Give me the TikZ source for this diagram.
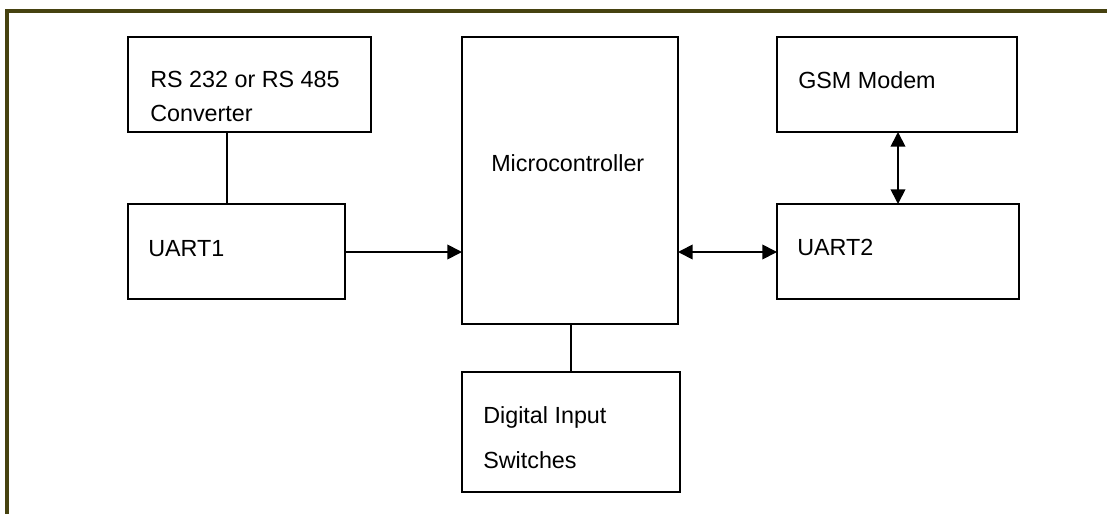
\documentclass[tikz,border=0pt]{standalone}
\usepackage{fontspec}
\setmainfont{Liberation Sans}
\usetikzlibrary{arrows.meta}
\definecolor{framecol}{RGB}{70,66,16}
\begin{document}
\begin{tikzpicture}[x=0.75pt,y=-0.75pt,
  blk/.style={draw=black,line width=1.5pt,rectangle,inner sep=0pt,outer sep=0pt,anchor=north west},
  txt/.style={anchor=base west,inner sep=0pt,font=\fontsize{17.5}{21}\selectfont},
  conn/.style={line width=1.3pt},
  tip/.style={{Triangle[length=11pt,width=11pt]}},
]
\useasboundingbox (0,0) rectangle (1107,514);
% frame (top and left only)
\coordinate (fTL) at (7,11);
\coordinate (fTR) at (1107,11);
\coordinate (fBL) at (7,514);
\draw[framecol,line width=2.4pt] (fBL) -- (fTL) -- (fTR);
% boxes
\node[blk,minimum width=243*0.75pt,minimum height=95*0.75pt] (rs) at (128,37) {};
\node[blk,minimum width=217*0.75pt,minimum height=95*0.75pt] (u1) at (128,204) {};
\node[blk,minimum width=216*0.75pt,minimum height=287*0.75pt] (mc) at (462,37) {};
\node[blk,minimum width=240*0.75pt,minimum height=95*0.75pt] (gsm) at (777,37) {};
\node[blk,minimum width=242*0.75pt,minimum height=95*0.75pt] (u2) at (777,204) {};
\node[blk,minimum width=218*0.75pt,minimum height=120*0.75pt] (dig) at (462,372) {};
% texts
\node[txt] (trs1) at (150,87) {RS 232 or RS 485};
\node[txt] (trs2) at (150,121) {Converter};
\node[txt] (tu1) at (148,256) {UART1};
\node[txt] (tmc) at (491,171) {Microcontroller};
\node[txt] (tgsm) at (798,88) {GSM Modem};
\node[txt] (tu2) at (797,255) {UART2};
\node[txt] (td1) at (483,423) {Digital Input};
\node[txt] (td2) at (483,468) {Switches};
% connectors
\draw[conn] (rs.south west) ++(99,0) coordinate (rsb) -- (rsb |- u1.north);
\draw[conn,-{Triangle[length=11pt,width=11pt]}] (u1.east |- 0,252) coordinate (a1) -- (mc.west |- a1);
\draw[conn,{Triangle[length=11pt,width=11pt]}-{Triangle[length=11pt,width=11pt]}] (mc.east |- 0,252) coordinate (a2) -- (u2.west |- a2);
\draw[conn,{Triangle[length=11pt,width=11pt]}-{Triangle[length=11pt,width=11pt]}] (898,0 |- gsm.south) coordinate (a3) -- (a3 |- u2.north);
\draw[conn] (571,0 |- mc.south) coordinate (a4) -- (a4 |- dig.north);
\end{tikzpicture}
\end{document}
